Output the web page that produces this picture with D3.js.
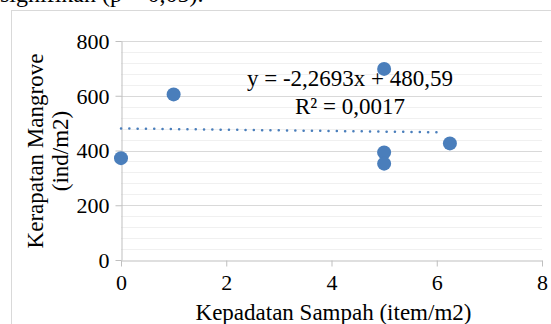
<!DOCTYPE html>
<html>
<head>
<meta charset="utf-8">
<script src="https://cdn.jsdelivr.net/npm/d3@7"></script>
<style>
  body { margin: 0; background: #fff; }
  svg text { font-family: "Liberation Serif", "Times New Roman", serif !important; fill: #000; }
</style>
</head>
<body>
<div id="chart"></div>
<script>
// data
var sampah = [0, 1, 5, 5, 5, 6.25];
var mangrove = [372, 605, 698, 393, 352, 426];
var xTicks = [0, 2, 4, 6, 8];
var yTicks = [0, 200, 400, 600, 800];
var trendSlope = -2.2693,
	trendIntercept = 480.59;
var trendLabels = ["y = -2,2693x + 480,59", "R\u00b2 = 0,0017"];

var width = 551, height = 324;
var plot = { left: 121, right: 542, top: 41, bottom: 260 };
var blue = "#4a7ebb";

var svg = d3.select("#chart").append("svg")
	.attr("width", width)
	.attr("height", height);

// frame of the chart object
svg.append("rect")
	.attr("x", 11.5).attr("y", 10.5)
	.attr("width", 560).attr("height", 330)
	.attr("fill", "none")
	.attr("stroke", "#d9d9d9");

// caption text cut off above
svg.append("text")
	.attr("x", 0).attr("y", 2)
	.style("font-size", "24px")
	.text("signifikan (p > 0,05).");

var x = d3.scaleLinear().domain([0, 8]).range([plot.left, plot.right]);
var y = d3.scaleLinear().domain([0, 800]).range([plot.bottom, plot.top]);

// minor gridlines
svg.append("g").selectAll("line")
	.data(d3.range(40, 800, 40).filter(function(v) { return v % 200 !== 0; }))
	.enter().append("line")
	.attr("x1", plot.left).attr("x2", plot.right)
	.attr("y1", function(d) { return Math.round(y(d)) + 0.5; })
	.attr("y2", function(d) { return Math.round(y(d)) + 0.5; })
	.attr("stroke", "#f0f0f0");

// major gridlines
svg.append("g").selectAll("line")
	.data(yTicks.slice(1))
	.enter().append("line")
	.attr("x1", plot.left).attr("x2", plot.right)
	.attr("y1", function(d) { return Math.round(y(d)) + 0.5; })
	.attr("y2", function(d) { return Math.round(y(d)) + 0.5; })
	.attr("stroke", "#d9d9d9");

// axes
var xAxis = svg.append("g")
	.attr("transform", "translate(0," + (plot.bottom + 0.5) + ")")
	.call(d3.axisBottom(x).tickValues(xTicks).tickSize(6).tickSizeOuter(0).tickPadding(6));
var yAxis = svg.append("g")
	.attr("transform", "translate(" + (plot.left + 0.5) + ",0)")
	.call(d3.axisLeft(y).tickValues(yTicks).tickSize(6).tickSizeOuter(0).tickPadding(6));

[xAxis, yAxis].forEach(function(g) {
	g.attr("font-family", "Liberation Serif").attr("font-size", 22);
	g.select(".domain").attr("stroke", "#bfbfbf");
	g.selectAll(".tick line").attr("stroke", "#bfbfbf");
	g.selectAll(".tick text").attr("fill", "#000");
});
xAxis.selectAll(".tick text").attr("dy", "0.8em");
yAxis.selectAll(".tick text").attr("dy", "0.34em");

// linear trendline (dotted)
var trendX = [0, d3.max(sampah)];
svg.append("line")
	.attr("x1", x(trendX[0]))
	.attr("y1", y(trendIntercept + trendSlope * trendX[0]))
	.attr("x2", x(trendX[1]) - 6)
	.attr("y2", y(trendIntercept + trendSlope * trendX[1]))
	.attr("stroke", blue)
	.attr("stroke-width", 2.5)
	.attr("stroke-linecap", "round")
	.attr("stroke-dasharray", "0.1 8.2");

// points
svg.append("g").selectAll("circle")
	.data(sampah)
	.enter().append("circle")
	.attr("cx", function(d) { return x(d); })
	.attr("cy", function(d, i) { return y(mangrove[i]); })
	.attr("r", 7)
	.attr("fill", blue);

// trendline label
svg.append("g").selectAll("text")
	.data(trendLabels)
	.enter().append("text")
	.attr("x", 350)
	.attr("y", function(d, i) { return 86 + i * 28; })
	.attr("text-anchor", "middle")
	.style("font-size", "23px")
	.text(function(d) { return d; });

// axis titles
svg.append("text")
	.attr("x", x(4) + 2)
	.attr("y", 320)
	.attr("text-anchor", "middle")
	.style("font-size", "23px")
	.text("Kepadatan Sampah (item/m2)");

var yTitle = svg.append("text")
	.attr("transform", "translate(43,151) rotate(-90)")
	.attr("text-anchor", "middle")
	.style("font-size", "23px");
yTitle.append("tspan").attr("x", 0).attr("y", 0).text("Kerapatan Mangrove");
yTitle.append("tspan").attr("x", 0).attr("y", 25).text("(ind/m2)");
</script>
</body>
</html>
